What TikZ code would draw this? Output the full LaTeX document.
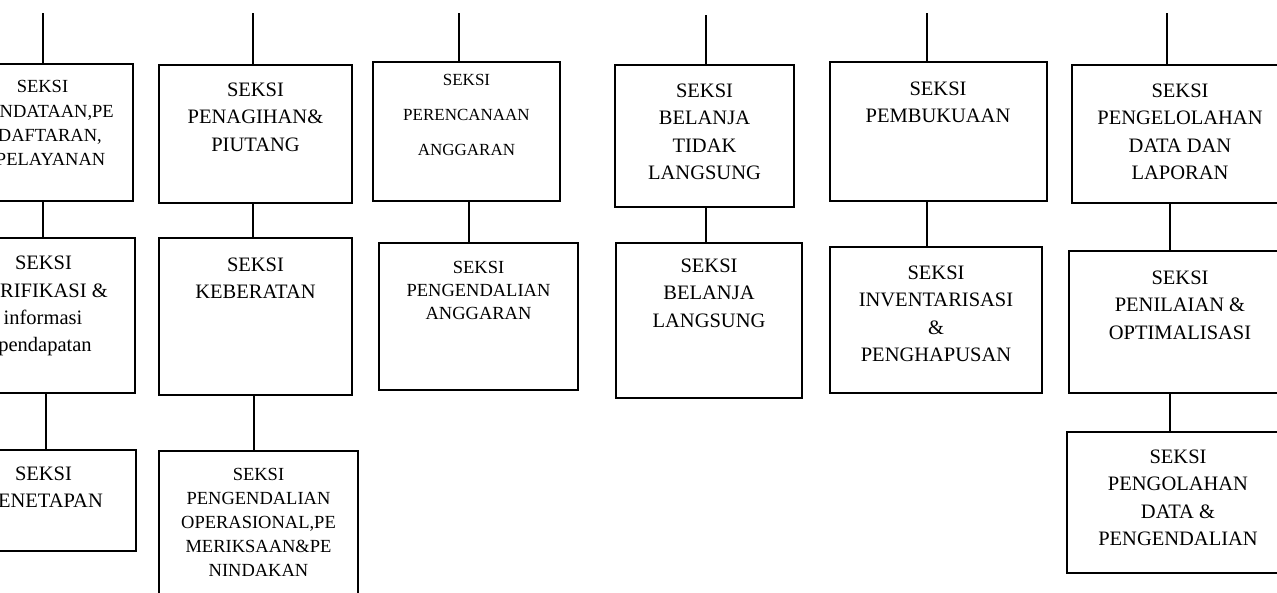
\documentclass[tikz,border=0pt]{standalone}
\usepackage{fontspec}
\setmainfont{Liberation Serif}
\usetikzlibrary{fit}
\newcommand\bigf{\fontsize{20.5}{27.5}\selectfont}
\newcommand\smallf{\fontsize{18.5}{24}\selectfont}
\newcommand\tinyf{\fontsize{17}{35}\selectfont}
\newcommand\ctext[2]{\parbox[t]{240pt}{\centering #1 #2}}
\tikzset{
  box/.style={draw, line width=1.5pt, inner sep=0pt},
  conn/.style={line width=1.5pt},
  lbl/.style={inner sep=0pt, anchor=base},
  cut/.style={inner sep=0pt, anchor=base east},
}
\begin{document}
\begin{tikzpicture}[x=1pt,y=-1pt]
\useasboundingbox (0,0) rectangle (1277,592);
\clip (0,0) rectangle (1277,592);
\fill[white] (0,0) rectangle (1277,592);

% boxes
\node[box, fit={(-48,64) (133,201)}] (a1) {};
\node[box, fit={(-45,238) (135,393)}] (a2) {};
\node[box, fit={(-49,450) (136,551)}] (a3) {};
\node[box, fit={(159,65) (352,203)}] (b1) {};
\node[box, fit={(159,238) (352,395)}] (b2) {};
\node[box, fit={(159,451) (358,620)}] (b3) {};
\node[box, fit={(373,62) (560,201)}] (c1) {};
\node[box, fit={(379,243) (578,390)}] (c2) {};
\node[box, fit={(615,65) (794,207)}] (d1) {};
\node[box, fit={(616,243) (802,398)}] (d2) {};
\node[box, fit={(830,62) (1047,201)}] (e1) {};
\node[box, fit={(830,247) (1042,393)}] (e2) {};
\node[box, fit={(1072,65) (1290,203)}] (f1) {};
\node[box, fit={(1069,251) (1291,393)}] (f2) {};
\node[box, fit={(1067,432) (1293,573)}] (f3) {};

% connector anchors
\coordinate (ta) at (43,13);
\coordinate (xa) at (46,0);
\coordinate (tb) at (253,13);
\coordinate (xb) at (254,0);
\coordinate (tc) at (459,13);
\coordinate (xc) at (469,0);
\coordinate (td) at (706,15);
\coordinate (te) at (927,13);
\coordinate (tf) at (1167,13);
\coordinate (xf) at (1170,0);

% connectors
\draw[conn] (ta) -- (ta |- a1.north);
\draw[conn] (a1.south -| ta) -- (a2.north -| ta);
\draw[conn] (a2.south -| xa) -- (a3.north -| xa);
\draw[conn] (tb) -- (tb |- b1.north);
\draw[conn] (b1.south -| tb) -- (b2.north -| tb);
\draw[conn] (b2.south -| xb) -- (b3.north -| xb);
\draw[conn] (tc) -- (tc |- c1.north);
\draw[conn] (c1.south -| xc) -- (c2.north -| xc);
\draw[conn] (td) -- (td |- d1.north);
\draw[conn] (d1.south -| td) -- (d2.north -| td);
\draw[conn] (te) -- (te |- e1.north);
\draw[conn] (e1.south -| te) -- (e2.north -| te);
\draw[conn] (tf) -- (tf |- f1.north);
\draw[conn] (f1.south -| xf) -- (f2.north -| xf);
\draw[conn] (f2.south -| xf) -- (f3.north -| xf);

% column 1 (cut at left edge)
\node[lbl] (a1t1) at (42.5,92) {\smallf SEKSI};
\node[cut] (a1t2) at (114,117) {\smallf NDATAAN,PE};
\node[cut] (a1t3) at (102,141) {\smallf DAFTARAN,};
\node[cut] (a1t4) at (105.5,165) {\smallf PELAYANAN};
\node[lbl] (a2t1) at (43.5,269) {\bigf SEKSI};
\node[cut] (a2t2) at (108,297) {\bigf RIFIKASI \&};
\node[lbl] (a2t3) at (43,324) {\bigf informasi};
\node[lbl] (a2t4) at (45,351) {\bigf pendapatan};
\node[lbl] (a3t1) at (43.5,480) {\bigf SEKSI};
\node[cut] (a3t2) at (103,507) {\bigf ENETAPAN};

% other columns
\node[lbl] (b1t) at (255.5,96) {\ctext{\bigf}{SEKSI\\PENAGIHAN\&\\PIUTANG}};
\node[lbl] (b2t) at (255.5,271) {\ctext{\bigf}{SEKSI\\KEBERATAN}};
\node[lbl] (b3t) at (258.5,480) {\ctext{\smallf}{SEKSI\\PENGENDALIAN\\OPERASIONAL,PE\\MERIKSAAN\&PE\\NINDAKAN}};
\node[lbl] (c1t) at (466.5,85) {\ctext{\tinyf}{SEKSI\\PERENCANAAN\\ANGGARAN}};
\node[lbl] (c2t) at (478.5,273) {\ctext{\fontsize{18.5}{23}\selectfont}{SEKSI\\PENGENDALIAN\\ANGGARAN}};
\node[lbl] (d1t) at (704.5,97) {\ctext{\bigf}{SEKSI\\BELANJA\\TIDAK\\LANGSUNG}};
\node[lbl] (d2t) at (709,272) {\ctext{\bigf}{SEKSI\\BELANJA\\LANGSUNG}};
\node[lbl] (e1t) at (938,95) {\ctext{\bigf}{SEKSI\\PEMBUKUAAN}};
\node[lbl] (e2t) at (936,279) {\ctext{\bigf}{SEKSI\\INVENTARISASI\\\&\\PENGHAPUSAN}};
\node[lbl] (f1t) at (1180,97) {\ctext{\bigf}{SEKSI\\PENGELOLAHAN\\DATA DAN\\LAPORAN}};
\node[lbl] (f2t) at (1180,284) {\ctext{\bigf}{SEKSI\\PENILAIAN \&\\OPTIMALISASI}};
\node[lbl] (f3t) at (1178,463) {\ctext{\bigf}{SEKSI\\PENGOLAHAN\\DATA \&\\PENGENDALIAN}};
\end{tikzpicture}
\end{document}
